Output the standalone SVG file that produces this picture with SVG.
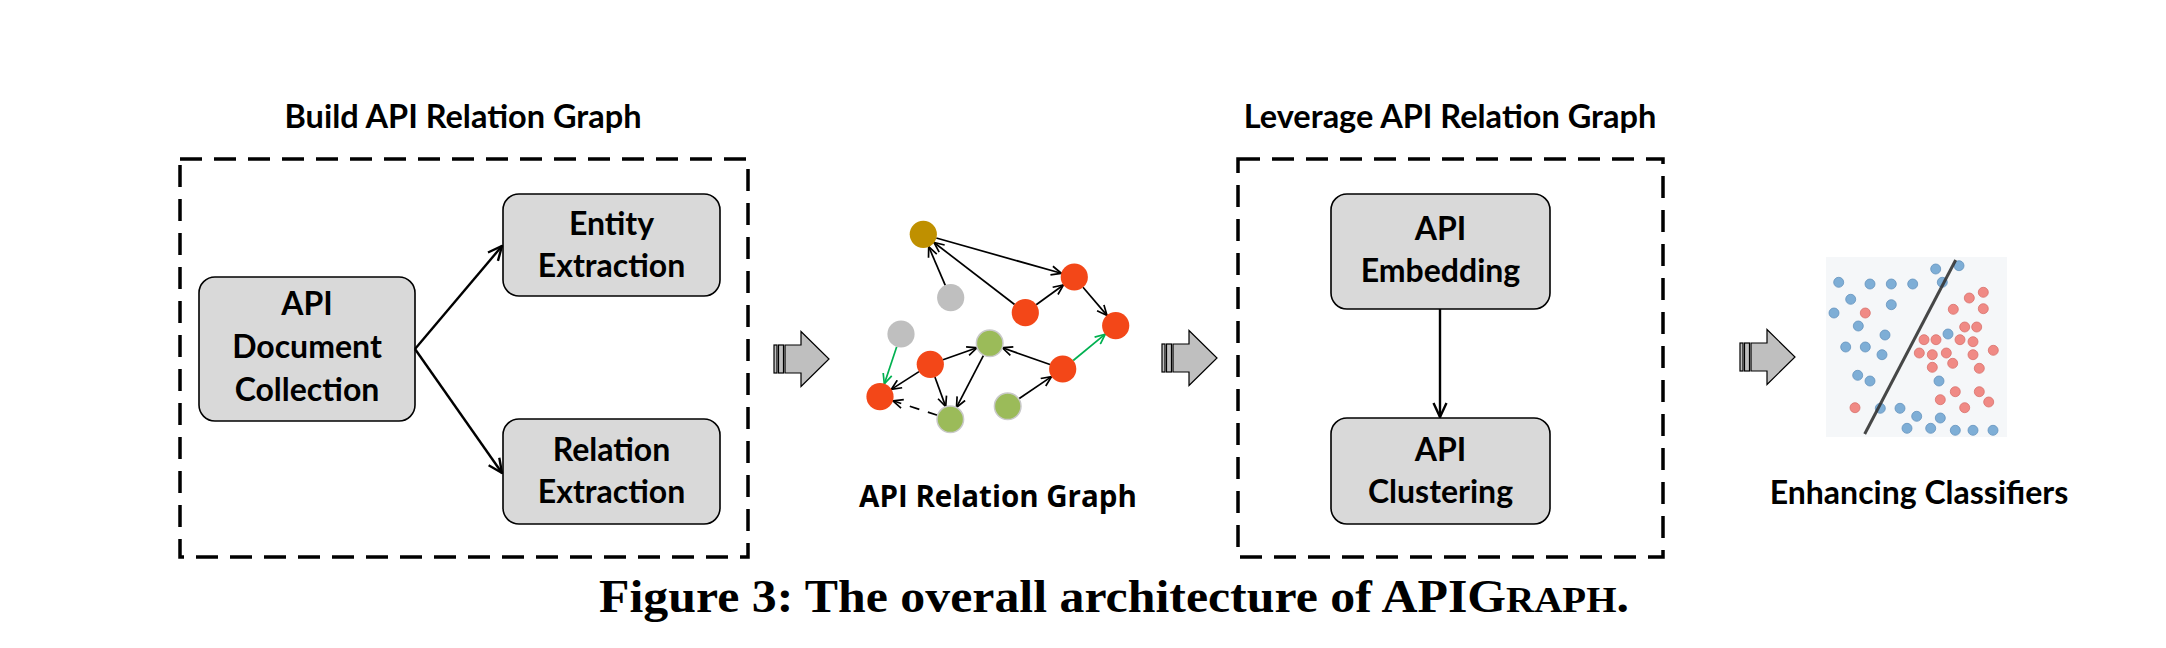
<svg xmlns="http://www.w3.org/2000/svg" width="2166" height="648" viewBox="0 0 2166 648">
<style>
.lbl{font-family:Lato,"Open Sans","Liberation Sans",sans-serif;font-weight:bold;font-size:32px;fill:#000;text-anchor:middle}
.ttl{font-family:Lato,"Open Sans","Liberation Sans",sans-serif;font-weight:bold;font-size:32.5px;fill:#000;text-anchor:middle}
.glbl{font-family:"Open Sans","Liberation Sans",sans-serif;font-weight:bold;font-size:29.5px;fill:#000;text-anchor:middle}
.cap{font-family:"Liberation Serif","Times New Roman",serif;font-weight:bold;font-size:46px;fill:#000;text-anchor:middle}
.dash{fill:none;stroke:#000;stroke-width:3.5;stroke-dasharray:22 12}
.box{fill:#D9D9D9;stroke:#000;stroke-width:1.6}
.flow{fill:none;stroke:#000;stroke-width:2.4}
.e{fill:none;stroke:#000;stroke-width:1.7}
.eg{fill:none;stroke:#00B050;stroke-width:1.7}
.red{fill:#F34718}
.grn{fill:#9BBB59;stroke:#C9C9C9;stroke-width:1.5}
.gry{fill:#BFBFBF}
.gold{fill:#BF9000}
.bd{fill:#7EAED6;stroke:#6493BE;stroke-width:0.8}
.rd{fill:#F08A85;stroke:#D8716C;stroke-width:0.8}
.blk{fill:#BFBFBF;stroke:#000;stroke-width:1.2}
</style>
<defs>
<marker id="ah" viewBox="0 0 16 16" refX="15" refY="8" markerWidth="16" markerHeight="16" markerUnits="userSpaceOnUse" orient="auto">
<path d="M1,1.5 L15,8 L1,14.5" fill="none" stroke="#000" stroke-width="2.4"/>
</marker>
<marker id="am" viewBox="0 0 11 11" refX="10.5" refY="5.5" markerWidth="11" markerHeight="11" markerUnits="userSpaceOnUse" orient="auto">
<path d="M0.5,1 L10.5,5.5 L0.5,10" fill="none" stroke="#000" stroke-width="1.7"/>
</marker>
<marker id="amg" viewBox="0 0 11 11" refX="10.5" refY="5.5" markerWidth="11" markerHeight="11" markerUnits="userSpaceOnUse" orient="auto">
<path d="M0.5,1 L10.5,5.5 L0.5,10" fill="none" stroke="#00B050" stroke-width="1.7"/>
</marker>
<g id="blockArrow">
<rect class="blk" x="0" y="-14" width="3" height="28"/>
<rect class="blk" x="4.5" y="-14" width="5" height="28"/>
<path class="blk" d="M11,-14 L27,-14 L27,-27.5 L55,0 L27,27.5 L27,14 L11,14 Z"/>
</g>
</defs>

<g id="build-panel">
<rect class="dash" x="180" y="159" width="568" height="398"/>
<text class="ttl" x="463" y="128">Build API Relation Graph</text>
</g>
<g id="api-doc">
<rect class="box" x="199" y="277" width="216" height="144" rx="16"/>
<text class="lbl" x="307" y="315">API</text>
<text class="lbl" x="307" y="358">Document</text>
<text class="lbl" x="307" y="401">Collection</text>
</g>
<g id="entity">
<rect class="box" x="503" y="194" width="217" height="102" rx="16"/>
<text class="lbl" x="611.5" y="235">Entity</text>
<text class="lbl" x="611.5" y="277">Extraction</text>
</g>
<g id="relation">
<rect class="box" x="503" y="419" width="217" height="105" rx="16"/>
<text class="lbl" x="611.5" y="461">Relation</text>
<text class="lbl" x="611.5" y="503">Extraction</text>
</g>

<g id="leverage-panel">
<rect class="dash" x="1238" y="159" width="425" height="398"/>
<text class="ttl" x="1450" y="128">Leverage API Relation Graph</text>
</g>
<g id="embedding">
<rect class="box" x="1331" y="194" width="219" height="115" rx="16"/>
<text class="lbl" x="1440.5" y="240">API</text>
<text class="lbl" x="1440.5" y="282">Embedding</text>
</g>
<g id="clustering">
<rect class="box" x="1331" y="418" width="219" height="106" rx="16"/>
<text class="lbl" x="1440.5" y="461">API</text>
<text class="lbl" x="1440.5" y="503">Clustering</text>
</g>

<g id="connectors">
<line class="flow" x1="415" y1="349" x2="502" y2="246" marker-end="url(#ah)"/>
<line class="flow" x1="415" y1="349" x2="502" y2="473" marker-end="url(#ah)"/>
<line class="flow" x1="1440" y1="309" x2="1440" y2="417" marker-end="url(#ah)"/>
<use href="#blockArrow" x="774" y="359"/>
<use href="#blockArrow" x="1162" y="358"/>
<use href="#blockArrow" x="1740" y="357"/>
</g>

<g id="api-relation-graph">
<g id="graph-edges">
<line class="e" x1="936.3" y1="238" x2="1061.3" y2="273.3" marker-end="url(#am)"/>
<line class="e" x1="945.3" y1="285.3" x2="928.7" y2="246.7" marker-end="url(#am)"/>
<line class="e" x1="1014.6" y1="304.5" x2="934" y2="242.5" marker-end="url(#am)"/>
<line class="e" x1="1036.2" y1="304.8" x2="1063.4" y2="285" marker-end="url(#am)"/>
<line class="e" x1="1083" y1="287.3" x2="1107" y2="315.4" marker-end="url(#am)"/>
<line class="eg" x1="1073.2" y1="360.5" x2="1105.2" y2="334.2" marker-end="url(#amg)"/>
<line class="e" x1="1050" y1="364.5" x2="1002.4" y2="347.8" marker-end="url(#am)"/>
<line class="e" x1="1018.9" y1="398.7" x2="1051.5" y2="376.6" marker-end="url(#am)"/>
<line class="e" x1="943" y1="359.8" x2="977" y2="347.8" marker-end="url(#am)"/>
<line class="e" x1="983.5" y1="355.3" x2="956.5" y2="407.3" marker-end="url(#am)"/>
<line class="e" x1="934.9" y1="377" x2="945.7" y2="406.6" marker-end="url(#am)"/>
<line class="e" x1="919" y1="371.6" x2="891.3" y2="389.4" marker-end="url(#am)"/>
<line class="eg" x1="896.7" y1="346.8" x2="884.3" y2="383.9" marker-end="url(#amg)"/>
<line class="e" x1="937.4" y1="415.2" x2="892.9" y2="400.8" stroke-dasharray="10 9" marker-end="url(#am)"/>
</g>
<g id="graph-nodes">
<circle class="gold" cx="923.3" cy="234.3" r="13.6"/>
<circle class="gry" cx="950.7" cy="297.7" r="13.6"/>
<circle class="gry" cx="901" cy="334" r="13.6"/>
<circle class="red" cx="1074.3" cy="277" r="13.6"/>
<circle class="red" cx="1025.3" cy="312.7" r="13.6"/>
<circle class="red" cx="1115.7" cy="325.7" r="13.6"/>
<circle class="grn" cx="989.7" cy="343.3" r="13.3"/>
<circle class="red" cx="930.3" cy="364.3" r="13.6"/>
<circle class="red" cx="1062.7" cy="369" r="13.6"/>
<circle class="red" cx="880" cy="396.7" r="13.6"/>
<circle class="grn" cx="950.3" cy="419.3" r="13.3"/>
<circle class="grn" cx="1007.7" cy="406.3" r="13.3"/>
</g>
<text class="glbl" x="998" y="507">API Relation Graph</text>
</g>

<g id="enhancing-classifiers">
<rect x="1826" y="257" width="181" height="180" fill="#F5F7F9"/>
<g id="blue-dots">
<circle class="bd" cx="1935.7" cy="269" r="5"/>
<circle class="bd" cx="1959" cy="265.7" r="5"/>
<circle class="bd" cx="1838.7" cy="282.3" r="5"/>
<circle class="bd" cx="1870" cy="284" r="5"/>
<circle class="bd" cx="1891.3" cy="284" r="5"/>
<circle class="bd" cx="1912.7" cy="284" r="5"/>
<circle class="bd" cx="1942.3" cy="282.3" r="5"/>
<circle class="bd" cx="1850.7" cy="299.3" r="5"/>
<circle class="bd" cx="1891.3" cy="304.7" r="5"/>
<circle class="bd" cx="1834" cy="313" r="5"/>
<circle class="bd" cx="1858.3" cy="326" r="5"/>
<circle class="bd" cx="1885" cy="335" r="5"/>
<circle class="bd" cx="1948" cy="334" r="5"/>
<circle class="bd" cx="1845.7" cy="347" r="5"/>
<circle class="bd" cx="1865.3" cy="347" r="5"/>
<circle class="bd" cx="1882" cy="354.7" r="5"/>
<circle class="bd" cx="1857.7" cy="375.3" r="5"/>
<circle class="bd" cx="1870" cy="381" r="5"/>
<circle class="bd" cx="1939" cy="381" r="5"/>
<circle class="bd" cx="1880.3" cy="408.3" r="5"/>
<circle class="bd" cx="1900" cy="408.3" r="5"/>
<circle class="bd" cx="1916.7" cy="416.3" r="5"/>
<circle class="bd" cx="1940.3" cy="418" r="5"/>
<circle class="bd" cx="1907" cy="428.3" r="5"/>
<circle class="bd" cx="1930.7" cy="428.3" r="5"/>
<circle class="bd" cx="1955.3" cy="430.3" r="5"/>
<circle class="bd" cx="1973" cy="430.3" r="5"/>
<circle class="bd" cx="1993" cy="430.3" r="5"/>
</g>
<g id="red-dots">
<circle class="rd" cx="1983.3" cy="292.3" r="5"/>
<circle class="rd" cx="1969.3" cy="298" r="5"/>
<circle class="rd" cx="1953.3" cy="309.3" r="5"/>
<circle class="rd" cx="1983.3" cy="308.7" r="5"/>
<circle class="rd" cx="1865.3" cy="313" r="5"/>
<circle class="rd" cx="1964.7" cy="327" r="5"/>
<circle class="rd" cx="1976.7" cy="327" r="5"/>
<circle class="rd" cx="1924" cy="339.7" r="5"/>
<circle class="rd" cx="1936" cy="339.7" r="5"/>
<circle class="rd" cx="1960" cy="339.7" r="5"/>
<circle class="rd" cx="1973" cy="341.7" r="5"/>
<circle class="rd" cx="1919.3" cy="353" r="5"/>
<circle class="rd" cx="1932.3" cy="354.7" r="5"/>
<circle class="rd" cx="1946.3" cy="353" r="5"/>
<circle class="rd" cx="1973" cy="354.7" r="5"/>
<circle class="rd" cx="1993.3" cy="350.3" r="5"/>
<circle class="rd" cx="1932.3" cy="367.3" r="5"/>
<circle class="rd" cx="1952.7" cy="363.3" r="5"/>
<circle class="rd" cx="1979.3" cy="368.3" r="5"/>
<circle class="rd" cx="1955.3" cy="391.7" r="5"/>
<circle class="rd" cx="1979.3" cy="391.7" r="5"/>
<circle class="rd" cx="1940.3" cy="399.7" r="5"/>
<circle class="rd" cx="1988.7" cy="402" r="5"/>
<circle class="rd" cx="1855" cy="407.7" r="5"/>
<circle class="rd" cx="1964.7" cy="407.7" r="5"/>
</g>
<line x1="1955.7" y1="260" x2="1864.7" y2="434" stroke="#333" stroke-width="3" stroke-opacity="0.9"/>
<text class="lbl" x="1919" y="504">Enhancing Classifiers</text>
</g>

<g id="caption">
<text class="cap" x="1114" y="612" textLength="1030" lengthAdjust="spacingAndGlyphs">Figure 3: The overall architecture of APIG<tspan font-size="36">RAPH</tspan>.</text>
</g>
</svg>
